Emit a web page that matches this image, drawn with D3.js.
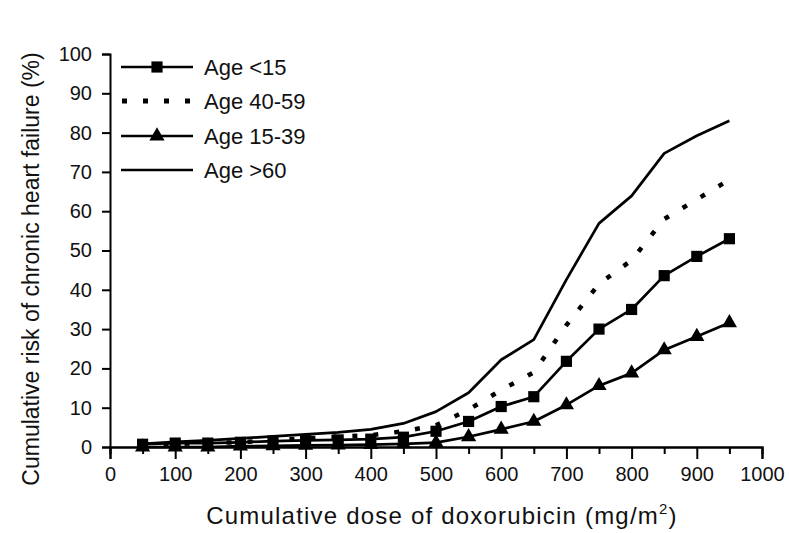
<!DOCTYPE html>
<html>
<head>
<meta charset="utf-8">
<script src="https://cdn.jsdelivr.net/npm/d3@7"></script>
<style>
  html, body { margin: 0; padding: 0; background: #fff; }
  svg { display: block; font-family: "Liberation Sans", Arial, sans-serif; }
</style>
</head>
<body>
<svg id="chart" width="789" height="533"></svg>
<script>
// Cumulative doxorubicin dose (mg/m2) at which each risk estimate is given
const doses = [50, 100, 150, 200, 250, 300, 350, 400, 450, 500, 550, 600, 650, 700, 750, 800, 850, 900, 950];

// Cumulative risk of chronic heart failure (%) per age group
const ageUnder15 = [0.7, 1.0, 1.0, 1.2, 1.5, 1.7, 1.8, 2.0, 2.5, 4.0, 6.5, 10.3, 12.8, 21.8, 30.0, 35.0, 43.6, 48.5, 53.0];
const age40to59  = [0.5, 0.8, 1.0, 1.2, 1.8, 2.2, 2.6, 3.0, 4.0, 5.5, 9.5, 14.5, 19.0, 31.0, 41.5, 47.5, 58.0, 63.0, 68.0];
const age15to39  = [0.0, 0.0, 0.0, 0.2, 0.3, 0.4, 0.5, 0.6, 0.8, 1.1, 2.6, 4.5, 6.5, 10.7, 15.6, 18.8, 24.7, 28.1, 31.6];
const ageOver60  = [0.8, 1.3, 1.7, 2.2, 2.7, 3.2, 3.7, 4.5, 6.0, 9.0, 13.8, 22.2, 27.3, 42.6, 56.9, 63.9, 74.7, 79.2, 83.0];

const seriesNames = ["Age <15", "Age 40-59", "Age 15-39", "Age >60"];

const xTicks = [0, 100, 200, 300, 400, 500, 600, 700, 800, 900, 1000];
const xMinorTicks = [50, 150, 250, 350, 450, 550, 650, 750, 850, 950];
const yTicks = [0, 10, 20, 30, 40, 50, 60, 70, 80, 90, 100];

const svg = d3.select("#chart");

const x = d3.scaleLinear().domain([0, 1000]).range([110, 762]);
const y = d3.scaleLinear().domain([0, 100]).range([447, 54]);

// Series styling: marker type and dash pattern
const series = [
  { name: seriesNames[0], values: ageUnder15, marker: "square",   dash: null },
  { name: seriesNames[1], values: age40to59,  marker: null,       dash: "5,16" },
  { name: seriesNames[2], values: age15to39,  marker: "triangle", dash: null },
  { name: seriesNames[3], values: ageOver60,  marker: null,       dash: null }
];

// Axes
const xAxis = d3.axisBottom(x).tickValues(xTicks).tickSize(12).tickPadding(8).tickFormat(d3.format("d"));
const xMinor = d3.axisBottom(x).tickValues(xMinorTicks).tickSize(7).tickFormat("");
const yAxis = d3.axisLeft(y).tickValues(yTicks).tickSize(8).tickPadding(10).tickFormat(d3.format("d"));

function styleAxis(g) {
  g.select(".domain").attr("stroke", "#000").attr("stroke-width", 2);
  g.selectAll(".tick line").attr("stroke", "#000").attr("stroke-width", 2);
  g.selectAll(".tick text").attr("fill", "#111").style("font-size", "20px")
    .style("font-family", "'Liberation Sans', Arial, sans-serif");
}

svg.append("g").attr("transform", `translate(0,${y(0)})`).call(xMinor).call(styleAxis);
svg.append("g").attr("transform", `translate(0,${y(0)})`).call(xAxis).call(styleAxis);
svg.append("g").attr("transform", `translate(${x(0)},0)`).call(yAxis).call(styleAxis);

// Lines
const line = d3.line().x((d, i) => x(doses[i])).y(d => y(d));

const layer = svg.append("g");
// draw the unmarked curves first so markers sit on top
[3, 1, 2, 0].forEach(k => {
  const s = series[k];
  layer.append("path")
    .datum(s.values)
    .attr("fill", "none")
    .attr("stroke", "#000")
    .attr("stroke-width", s.dash ? 4.5 : 2.7)
    .attr("stroke-dasharray", s.dash)
    .attr("stroke-linejoin", "round")
    .attr("d", line);
});

const sq = d3.symbol().type(d3.symbolSquare).size(125);
const tri = d3.symbol().type(d3.symbolTriangle).size(100);

[2, 0].forEach(k => {
  const s = series[k];
  layer.selectAll(null)
    .data(s.values)
    .enter().append("path")
    .attr("transform", (d, i) => `translate(${x(doses[i])},${y(d)})`)
    .attr("d", s.marker === "square" ? sq() : tri())
    .attr("fill", "#000");
});

// Legend
const legend = svg.append("g");
const rowY = [67, 101, 136, 170];
series.forEach((s, i) => {
  const g = legend.append("g").attr("transform", `translate(0,${rowY[i]})`);
  g.append("line")
    .attr("x1", s.dash ? 122 : 121).attr("x2", 193)
    .attr("stroke", "#000")
    .attr("stroke-width", s.dash ? 5 : 2.7)
    .attr("stroke-dasharray", s.dash ? "5,16" : null);
  if (s.marker) {
    g.append("path")
      .attr("transform", "translate(157,0)")
      .attr("d", s.marker === "square" ? sq() : tri())
      .attr("fill", "#000");
  }
  g.append("text")
    .attr("x", 204).attr("y", 7.5)
    .attr("fill", "#111")
    .style("font-size", "22px")
    .text(s.name);
});

// Axis titles
svg.append("text")
  .attr("x", 442).attr("y", 524)
  .attr("text-anchor", "middle")
  .attr("fill", "#111")
  .style("font-size", "24px")
  .style("letter-spacing", "1.2px")
  .call(t => {
    t.append("tspan").text("Cumulative dose of doxorubicin (mg/m");
    t.append("tspan").attr("dy", -10).style("font-size", "15px").text("2");
    t.append("tspan").attr("dy", 10).text(")");
  });

svg.append("text")
  .attr("transform", "translate(39,269) rotate(-90)")
  .attr("text-anchor", "middle")
  .attr("fill", "#111")
  .style("font-size", "23px")
  .text("Cumulative risk of chronic heart failure (%)");
</script>
</body>
</html>
